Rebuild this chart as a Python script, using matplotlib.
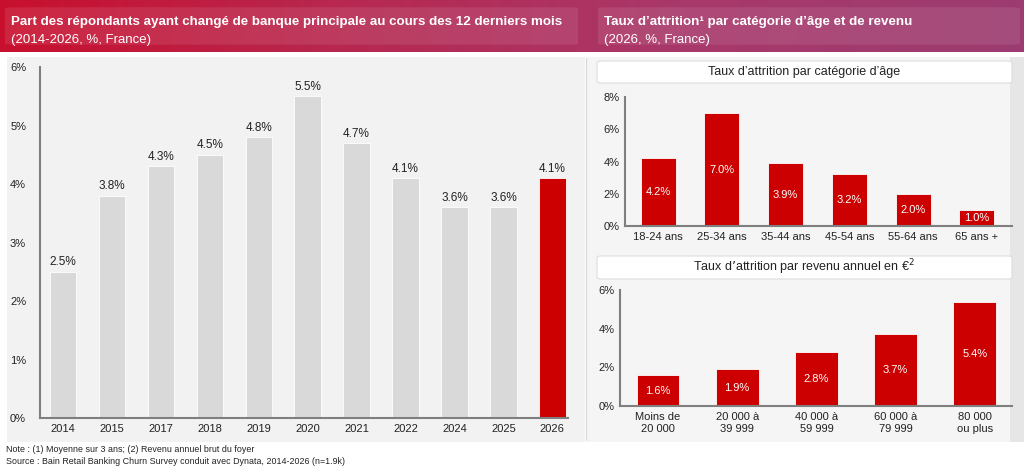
import numpy as np
import matplotlib
matplotlib.use("Agg")
import matplotlib.pyplot as plt
from matplotlib.patches import FancyBboxPatch, Rectangle
from matplotlib.colors import LinearSegmentedColormap

plt.rcParams['font.family'] = ['Liberation Sans', 'DejaVu Sans']

# data
years = ['2014', '2015', '2017', '2018', '2019', '2020', '2021', '2022', '2024', '2025', '2026']
churn = [2.5, 3.8, 4.3, 4.5, 4.8, 5.5, 4.7, 4.1, 3.6, 3.6, 4.1]

age_labels = ['18-24 ans', '25-34 ans', '35-44 ans', '45-54 ans', '55-64 ans', '65 ans +']
age_vals = [4.2, 7.0, 3.9, 3.2, 2.0, 1.0]

income_labels = ['Moins de\n20 000', '20 000 à\n39 999', '40 000 à\n59 999', '60 000 à\n79 999', '80 000\nou plus']
income_vals = [1.6, 1.9, 2.8, 3.7, 5.4]

W, H = 1024, 468
RED = '#cc0000'
GREY = '#d9d9d9'
AXC = '#7f7f7f'
TXT = '#222222'

fig = plt.figure(figsize=(W / 100, H / 100), dpi=100)
fig.patch.set_facecolor('white')

def fx(x):
    return x / W

def fy(y):
    return 1 - y / H

# panel backgrounds (behind the axes)
for x0, w, c in [(7, 578, '#f2f2f2'), (587, 423, '#f5f5f5'), (1010, 14, '#e6e6e6')]:
    fig.patches.append(Rectangle((fx(x0), fy(442)), fx(w), 385 / H, transform=fig.transFigure,
                                 facecolor=c, edgecolor='none', zorder=-5))

# header gradient
hax = fig.add_axes([0, fy(52), 1, 52 / H])
cmap = LinearSegmentedColormap.from_list('hdr', ['#c8102e', '#b72850', '#a8386a', '#9c3c70'])
grad = np.linspace(0, 1, 256).reshape(1, -1)
hax.imshow(grad, aspect='auto', cmap=cmap, extent=[0, 1, 0, 1])
hax.set_xlim(0, 1)
hax.set_ylim(0, 1)
hax.axis('off')
for x0, x1 in [(5, 578), (598, 1020)]:
    hax.add_patch(FancyBboxPatch((fx(x0), 0.14), fx(x1 - x0), 0.72,
                                 boxstyle='round,pad=0,rounding_size=0.015',
                                 facecolor='white', alpha=0.09, edgecolor='none',
                                 transform=hax.transAxes))

fig.text(fx(11), fy(22), 'Part des répondants ayant changé de banque principale au cours des 12 derniers mois',
         color='white', fontsize=9.6, fontweight='bold', va='center')
fig.text(fx(11), fy(40), '(2014-2026, %, France)', color='white', fontsize=9.5, va='center')
fig.text(fx(604), fy(22), 'Taux d\u2019attrition\u00b9 par catégorie d\u2019âge et de revenu',
         color='white', fontsize=9.6, fontweight='bold', va='center')
fig.text(fx(604), fy(40), '(2026, %, France)', color='white', fontsize=9.5, va='center')

# separator
fig.lines.append(plt.Line2D([fx(586), fx(586)], [fy(440), fy(58)], transform=fig.transFigure,
                            color='#d8d8d8', lw=0.8, zorder=-4))


def style_axes(ax):
    ax.set_facecolor('none')
    for s in ['top', 'right']:
        ax.spines[s].set_visible(False)
    for s in ['left', 'bottom']:
        ax.spines[s].set_color(AXC)
        ax.spines[s].set_linewidth(1.5)
    ax.tick_params(axis='both', length=0, labelsize=8, colors=TXT, pad=4)
    ax.yaxis.set_major_formatter(matplotlib.ticker.FuncFormatter(lambda v, p: f'{v:.0f}%'))


# left chart
ax = fig.add_axes([fx(40), fy(418), fx(528), (418 - 67) / H])
x = np.arange(len(years))
colors = [GREY] * (len(years) - 1) + [RED]
ax.bar(x, churn, width=0.54, color=colors, edgecolor='white', linewidth=0.6, zorder=2)
for xi, v in zip(x, churn):
    ax.text(xi, v + 0.06, f'{v:.1f}%', ha='center', va='bottom', fontsize=8.5, color=TXT)
ax.set_xlim(-0.47, len(years) - 1 + 0.32)
ax.set_ylim(0, 6)
ax.set_yticks(range(0, 7))
ax.set_xticks(x)
ax.set_xticklabels(years)
style_axes(ax)
ax.tick_params(axis='y', pad=10)


def sub_title(y0, y1, text):
    fig.patches.append(FancyBboxPatch((fx(597), fy(y1)), fx(415), (y1 - y0) / H,
                                      boxstyle='round,pad=0,rounding_size=0.004',
                                      transform=fig.transFigure, facecolor='white',
                                      edgecolor='#dddddd', linewidth=0.8, zorder=-3))
    fig.text(fx(804), fy((y0 + y1) / 2), text, ha='center', va='center', fontsize=9, color=TXT)


# age chart
sub_title(61, 83, 'Taux d\u2019attrition par catégorie d\u2019âge')
ax2 = fig.add_axes([fx(625), fy(226), fx(387), (226 - 97) / H])
x2 = np.arange(len(age_labels))
ax2.bar(x2, age_vals, width=0.55, color=RED, edgecolor='white', linewidth=0.6, zorder=2)
for xi, v in zip(x2, age_vals):
    ax2.text(xi, v / 2, f'{v:.1f}%', ha='center', va='center', fontsize=8, color='white')
ax2.set_xlim(-0.52, len(age_labels) - 1 + 0.55)
ax2.set_ylim(0, 8)
ax2.set_yticks([0, 2, 4, 6, 8])
ax2.set_xticks(x2)
ax2.set_xticklabels(age_labels)
style_axes(ax2)

# income chart
sub_title(256, 279, 'Taux d\u2019attrition par revenu annuel en \u20ac$^2$')
ax3 = fig.add_axes([fx(620), fy(406), fx(392), (406 - 290) / H])
x3 = np.arange(len(income_labels))
ax3.bar(x3, income_vals, width=0.54, color=RED, edgecolor='white', linewidth=0.6, zorder=2)
for xi, v in zip(x3, income_vals):
    ax3.text(xi, v / 2, f'{v:.1f}%', ha='center', va='center', fontsize=8, color='white')
ax3.set_xlim(-0.48, len(income_labels) - 1 + 0.47)
ax3.set_ylim(0, 6)
ax3.set_yticks([0, 2, 4, 6])
ax3.set_xticks(x3)
ax3.set_xticklabels(income_labels, linespacing=1.3)
style_axes(ax3)

# notes
fig.text(fx(6), fy(450), 'Note : (1) Moyenne sur 3 ans; (2) Revenu annuel brut du foyer',
         fontsize=6.4, color=TXT, va='center')
fig.text(fx(6), fy(461), 'Source : Bain Retail Banking Churn Survey conduit avec Dynata, 2014-2026 (n=1.9k)',
         fontsize=6.4, color=TXT, va='center')

fig.savefig('out.png', dpi=100, facecolor=fig.get_facecolor())
